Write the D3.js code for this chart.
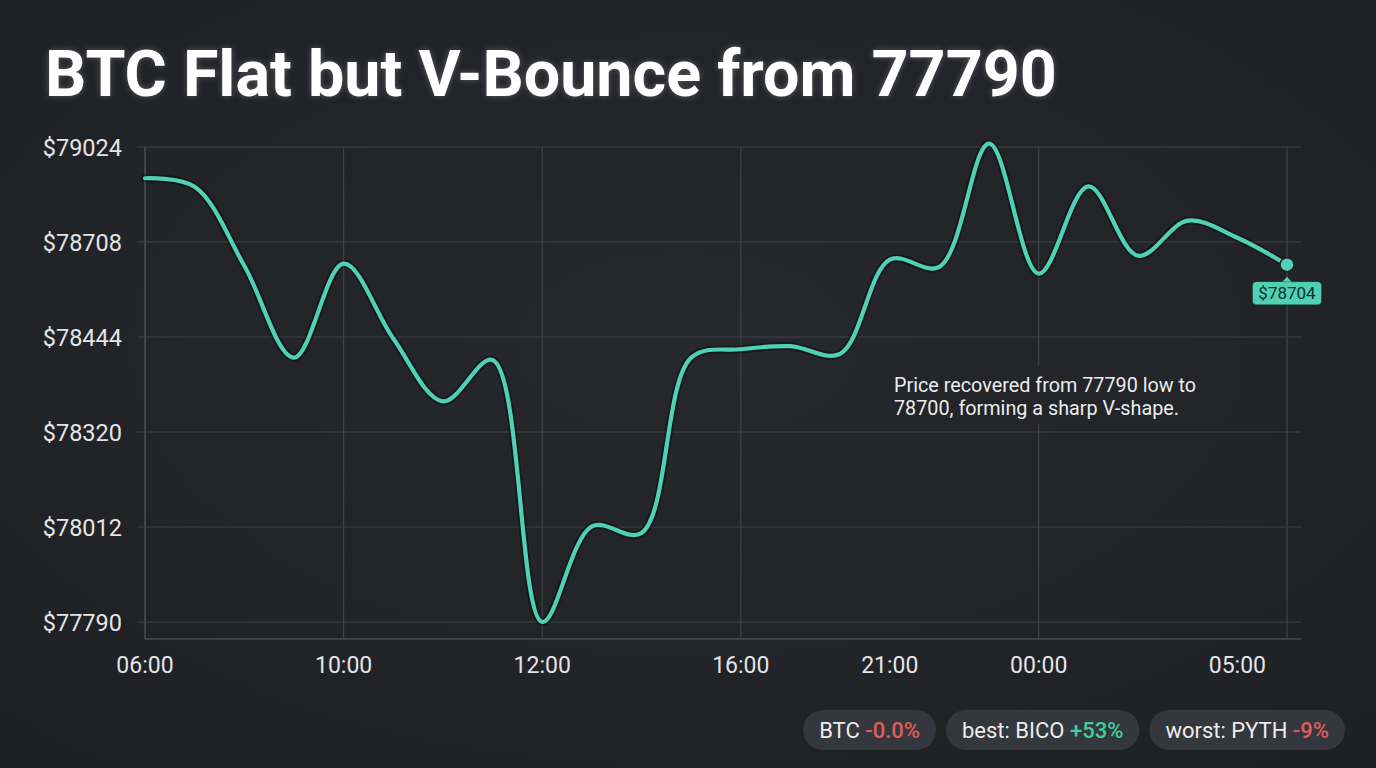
<!DOCTYPE html>
<html><head><meta charset="utf-8">
<script src="https://cdn.jsdelivr.net/npm/d3@7/dist/d3.min.js"></script>
<style>
html,body{margin:0;padding:0;background:#222429;}
svg{display:block;font-family:Roboto,"Noto Sans",sans-serif;}
</style></head>
<body>
<svg id="chart" width="1376" height="768"></svg>
<script>
// ---- data ----
const titleText = "BTC Flat but V-Bounce from 77790";
const hours = ["06:00","07:00","08:00","09:00","10:00","11:00","12:00","13:00","14:00","15:00","16:00","17:00",
               "18:00","19:00","20:00","21:00","22:00","23:00","00:00","01:00","02:00","03:00","04:00","05:00"];
const prices = [78920,78892,78642,78417,78648,78442,78360,78414,77790,78014,77998,78417,
                78428,78432,78422,78659,78639,79035,78620,78893,78670,78779,78722,78645];
const yTickValues = [77790,78012,78320,78444,78708,79024];
const xTickLabels = ["06:00","10:00","12:00","16:00","21:00","00:00","05:00"];
const xTickIndex = [0,4,8,12,15,18,22];
const xGridIndex = [0,4,8,12,18,23];
const lastPriceLabel = 78704;
const annotationLines = ["Price recovered from 77790 low to","78700, forming a sharp V-shape."];
const pills = [
  [{t:"BTC ",c:"#ececec"},{t:"-0.0%",c:"#e35b5b"}],
  [{t:"best: BICO ",c:"#ececec"},{t:"+53%",c:"#3fcf98"}],
  [{t:"worst: PYTH ",c:"#ececec"},{t:"-9%",c:"#e35b5b"}]
];

// ---- layout ----
const W = 1376, H = 768;
const plot = {left:145, right:1301, top:147, bottom:639, lastX:1287, yLow:622};
const teal = "#4fd1b6";

const svg = d3.select("#chart");
const defs = svg.append("defs");
const rg = defs.append("radialGradient").attr("id","bg").attr("cx","50%").attr("cy","45%").attr("r","75%");
rg.append("stop").attr("offset","0%").attr("stop-color","#26282d");
rg.append("stop").attr("offset","100%").attr("stop-color","#1e2024");
svg.append("rect").attr("width",W).attr("height",H).attr("fill","url(#bg)");

// scales
const x = d3.scalePoint().domain(d3.range(hours.length)).range([plot.left, plot.lastX]);
const yStep = (plot.yLow - plot.top) / (yTickValues.length - 1);
const y = d3.scaleLinear().domain(yTickValues).range(yTickValues.map((d,i)=>plot.yLow - i*yStep));

// grid
const grid = svg.append("g");
grid.selectAll("line.h").data(yTickValues).join("line")
  .attr("x1", plot.left-8).attr("x2", plot.right)
  .attr("y1", d=>y(d)).attr("y2", d=>y(d))
  .attr("stroke","#3f4248").attr("stroke-width",1.2);
grid.selectAll("line.v").data(xGridIndex).join("line")
  .attr("x1", d=>x(d)).attr("x2", d=>x(d))
  .attr("y1", plot.top).attr("y2", plot.bottom)
  .attr("stroke","#3f4248").attr("stroke-width",1.2);
grid.append("line").attr("x1",plot.left).attr("x2",plot.right).attr("y1",plot.bottom).attr("y2",plot.bottom)
  .attr("stroke","#474a50").attr("stroke-width",1.4);
grid.append("line").attr("x1",plot.left).attr("x2",plot.left).attr("y1",plot.top).attr("y2",plot.bottom)
  .attr("stroke","#474a50").attr("stroke-width",1.4);

// y axis labels
const yAxis = d3.axisLeft(y).tickValues(yTickValues).tickFormat(d=>"$"+d).tickSize(0).tickPadding(0);
const gy = svg.append("g").attr("transform",`translate(${plot.left-23},0)`).call(yAxis);
gy.select(".domain").remove();
gy.selectAll("text").attr("fill","#e4e4e4").attr("font-size",23.5).attr("font-family","Roboto").attr("dy","0.34em");

// x axis labels
const gx = svg.append("g").attr("transform",`translate(0,${plot.bottom+34})`);
gx.selectAll("text").data(xTickIndex).join("text")
  .attr("x", d=>x(d)).attr("y",0).attr("text-anchor","middle")
  .attr("fill","#e4e4e4").attr("font-size",23)
  .text((d,i)=>xTickLabels[i]);

// annotation
const ann = svg.append("g");
ann.append("rect").attr("x",886).attr("y",366).attr("width",322).attr("height",58).attr("fill","#232529");
ann.selectAll("text").data(annotationLines).join("text")
  .attr("x",894).attr("y",(d,i)=>392+i*23)
  .attr("fill","#ececec").attr("font-size",19.8).text(d=>d);

// line
const line = d3.line().x((d,i)=>x(i)).y(d=>y(d)).curve(d3.curveCatmullRom.alpha(0.5));
svg.append("path").datum(prices).attr("d",line).attr("fill","none")
  .attr("stroke","rgba(0,0,0,0.35)").attr("stroke-width",8).attr("stroke-linecap","round");
svg.append("path").datum(prices).attr("d",line).attr("fill","none")
  .attr("stroke",teal).attr("stroke-width",4.2).attr("stroke-linecap","round").attr("stroke-linejoin","round");

// last point marker + badge
const li = prices.length-1, lx = x(li), ly = y(prices[li]);
svg.append("circle").attr("cx",lx).attr("cy",ly).attr("r",7).attr("fill",teal)
  .attr("stroke","#1d1f23").attr("stroke-width",1.5);
const bw = 69, bh = 23, by = ly + 17;
const badge = svg.append("g");
badge.append("path").attr("d",`M${lx-5},${by+0.5} L${lx},${by-5} L${lx+5},${by+0.5} Z`).attr("fill",teal);
badge.append("rect").attr("x",lx-bw/2).attr("y",by).attr("width",bw).attr("height",bh).attr("rx",4)
  .attr("fill",teal).attr("stroke","rgba(0,0,0,0.25)").attr("stroke-width",1);
badge.append("text").attr("x",lx).attr("y",by+17.5).attr("text-anchor","middle")
  .attr("fill","#10302a").attr("font-size",17).text("$"+lastPriceLabel);

// title
const title = svg.append("text").attr("x",45).attr("y",96).attr("fill","#ffffff")
  .attr("font-size",62).attr("font-weight",700).attr("font-family","Roboto")
  .style("filter","drop-shadow(0 0 3px rgba(255,255,255,0.25))").text(titleText);
const tw = title.node().getComputedTextLength();
title.attr("font-size", 62*1012/tw);

// pills
const pg = svg.append("g");
const pillH = 40, pillY = 710, gap = 10, pad = 16;
const built = pills.map(parts=>{
  const g = pg.append("g");
  const r = g.append("rect").attr("height",pillH).attr("rx",20).attr("fill","#34373d");
  const t = g.append("text").attr("y",pillY+28).attr("font-size",22).attr("fill","#ececec");
  t.selectAll("tspan").data(parts).join("tspan").attr("fill",d=>d.c)
    .attr("font-weight",(d,i)=>i===1?500:400).text(d=>d.t);
  const w = t.node().getComputedTextLength() + 2*pad;
  return {g,r,t,w};
});
let cx = 1345;
for (let k=built.length-1;k>=0;k--){
  const b = built[k];
  cx -= b.w;
  b.r.attr("x",cx).attr("y",pillY).attr("width",b.w);
  b.t.attr("x",cx+pad);
  cx -= gap;
}
</script>
</body></html>
